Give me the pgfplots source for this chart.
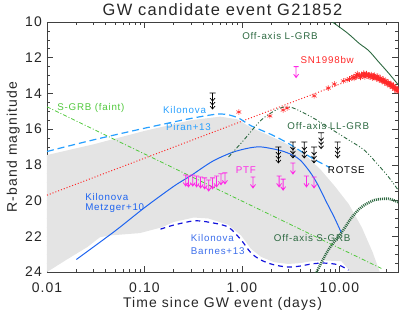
\documentclass[border=0pt]{standalone}
\usepackage{fontspec}
\setmainfont{Liberation Sans}[LetterSpace=8]
\usepackage{pgfplots}
\pgfplotsset{compat=1.18}

\definecolor{graybg}{RGB}{228,228,228}
\definecolor{sgrbgreen}{RGB}{80,200,60}
\definecolor{offgreen}{RGB}{45,105,65}
\definecolor{piran}{RGB}{40,160,255}
\definecolor{metzger}{RGB}{30,100,240}
\definecolor{barnes}{RGB}{20,20,220}
\definecolor{barneslab}{RGB}{60,110,235}
\definecolor{snred}{RGB}{255,40,40}
\definecolor{ptfmag}{RGB}{255,40,230}

\pgfdeclareplotmark{ulim}{%
  \pgfpathmoveto{\pgfqpoint{-2.5pt}{0pt}}\pgfpathlineto{\pgfqpoint{2.5pt}{0pt}}%
  \pgfpathmoveto{\pgfqpoint{0pt}{0pt}}\pgfpathlineto{\pgfqpoint{0pt}{-11pt}}%
  \pgfpathmoveto{\pgfqpoint{-2.5pt}{-7.5pt}}\pgfpathlineto{\pgfqpoint{0pt}{-11pt}}\pgfpathlineto{\pgfqpoint{2.5pt}{-7.5pt}}%
  \pgfusepathqstroke}
\pgfdeclareplotmark{rotse}{%
  \pgfpathmoveto{\pgfqpoint{-3pt}{0pt}}\pgfpathlineto{\pgfqpoint{3pt}{0pt}}%
  \pgfpathmoveto{\pgfqpoint{0pt}{0pt}}\pgfpathlineto{\pgfqpoint{0pt}{-16pt}}%
  \pgfpathmoveto{\pgfqpoint{-2.5pt}{-5pt}}\pgfpathlineto{\pgfqpoint{0pt}{-8pt}}\pgfpathlineto{\pgfqpoint{2.5pt}{-5pt}}%
  \pgfpathmoveto{\pgfqpoint{-2.5pt}{-9pt}}\pgfpathlineto{\pgfqpoint{0pt}{-12pt}}\pgfpathlineto{\pgfqpoint{2.5pt}{-9pt}}%
  \pgfpathmoveto{\pgfqpoint{-2.5pt}{-13pt}}\pgfpathlineto{\pgfqpoint{0pt}{-16pt}}\pgfpathlineto{\pgfqpoint{2.5pt}{-13pt}}%
  \pgfusepathqstroke}

\newcommand\annot{\fontsize{9.8}{11}\selectfont}
\newcommand\labfont{\fontsize{14}{14}\selectfont}

\begin{document}
\begin{tikzpicture}
\begin{axis}[
  scale only axis, width=351bp, height=250bp,
  xmode=log, xmin=0.01, xmax=40, ymin=10, ymax=24, y dir=reverse,
  xtick={0.01,0.1,1,10}, xticklabels={0.01,0.10,1.00,10.00},
  minor xtick={0.02,0.03,0.04,0.05,0.06,0.07,0.08,0.09,0.2,0.3,0.4,0.5,0.6,0.7,0.8,0.9,2,3,4,5,6,7,8,9,20,30,40},
  ytick={10,12,14,16,18,20,22,24}, minor y tick num=3,
  tick align=inside, major tick length=6bp, minor tick length=3bp,
  axis line style={black!75, line width=0.6pt},
  every tick/.style={black!75, line width=0.6pt},
  /pgf/number format/assume math mode=true,
  ticklabel style={font=\fontsize{14}{14}\selectfont, text=black!85},
  xticklabel style={anchor=base, yshift=-20bp},
  yticklabel style={anchor=east, inner sep=0pt, xshift=-5bp},
  title={GW candidate event G21852},
  title style={font=\fontsize{16.5}{16.5}\selectfont, text=black!85, at={(0.5,1)}, anchor=base, yshift=1bp},
  xlabel={Time since GW event (days)},
  xlabel style={font=\labfont, text=black!85, at={(axis description cs:0.5,0)}, anchor=base, yshift=-35bp},
  ylabel={R-band magnitude},
  ylabel style={font=\labfont, text=black!85, at={(axis description cs:-0.0855,0.5)}, anchor=base},
]
% gray kilonova region
\addplot[fill=graybg, draw=none] coordinates {
 (0.01,17.45) (0.03,16.85) (0.1,16.1) (0.3,15.5) (0.6,15.3) (0.9,15.45) (1.23,15.9) (1.8,16.3) (2.7,16.75) (4.3,17.35) (6.5,18.3) (9,19.2) (12.5,20.2) (17,21.5) (22,22.9) (26,24)
 (13,24) (12.4,23.85) (10.5,23.4) (7,23.35) (5.1,23.4) (4,23.5) (3,23.55) (2.14,23.45) (1.57,23.15) (1.24,22.7) (0.98,21.95) (0.72,21.35) (0.45,21.0) (0.32,20.95) (0.2,21.2) (0.15,21.5) (0.09,21.82) (0.045,21.95) (0.035,22.05) (0.026,22.6) (0.016,23.3) (0.01,24)
} -- cycle;
% S-GRB faint
\addplot[sgrbgreen, line width=0.8pt, dash pattern=on 4pt off 2pt on 1pt off 2pt] coordinates {(0.01,14.75) (27,23.8)};
% SN1998bw model dotted
\addplot[snred, line width=1pt, dotted] coordinates {(0.01,19.7) (11,13.4)};
% Piran
\addplot[piran, line width=1.2pt, dash pattern=on 7pt off 4pt, smooth] coordinates {
 (0.01,17.25) (0.03,16.6) (0.1,15.95) (0.3,15.4) (0.6,15.15) (0.9,15.35) (1.23,15.8) (2,16.3) (3,16.8) (4.5,17.4) (6,17.8) (8,18.15)};
% Metzger
\addplot[metzger, line width=1pt, smooth] coordinates {
 (0.02,23.3) (0.05,21.7) (0.1,20.4) (0.2,19.2) (0.3,18.6) (0.5,17.8) (0.8,17.3) (1.2,17.05) (1.6,17.0) (2.5,17.2) (3.3,17.45) (4,17.75) (5,18.4) (6,19.1) (7.4,20.1) (8.8,20.9) (9.9,21.5) (10.5,21.8)};
% Barnes
\addplot[barnes, line width=1.2pt, dash pattern=on 5pt off 4pt, smooth] coordinates {
 (0.146,21.6) (0.2,21.37) (0.32,21.14) (0.447,21.2) (0.72,21.48) (0.98,22.2) (1.24,22.93) (1.57,23.33) (2.14,23.6) (3,23.72) (4.05,23.66) (5.14,23.55) (7,23.5) (9.8,23.6) (12.4,23.9)};
% Off-axis L-GRB
\addplot[offgreen, line width=0.9pt, smooth] coordinates {
 (8,9.9) (12,10.6) (16,11.2) (20,11.6) (25,12.2) (32,12.86) (40,13.5)};
% Off-axis LL-GRB
\addplot[offgreen, line width=0.9pt, dash pattern=on 4pt off 2pt on 1pt off 2pt on 1pt off 2pt, smooth] coordinates {
 (0.73,17.56) (1.05,16.6) (1.57,15.5) (2.2,14.95) (2.7,14.76) (3.3,14.8) (4,15.0) (5.5,15.4) (8,15.95) (12,16.55) (18,17.17) (25,18.0) (32,18.68) (40,19.4)};
% Off-axis S-GRB
\addplot[offgreen, line width=2.6pt, dash pattern=on 1pt off 1pt, smooth] coordinates {
 (5.6,24.2) (7.7,22.77) (10.5,21.8) (13.3,20.97) (16.9,20.36) (23,19.97) (32,19.9) (40.5,20.1)};
% SN1998bw data
\addplot[only marks, mark=asterisk, mark size=2.8pt, snred, mark options={line width=0.6pt}] coordinates {
 (0.93,15.04) (1.94,15.26) (2.65,14.93) (2.91,14.82) (5.52,14.14) (7.7,13.7) (8.88,13.47) (11.0,13.3) (12.0,13.24) (12.7,13.19) (13.5,13.12) (14.0,13.06) (14.5,13.1) (15.0,13.0) (15.6,12.98) (16.2,13.03) (16.9,12.95) (17.5,13.0) (18.0,12.93) (18.6,12.99) (19.3,12.96) (19.9,13.01) (20.5,12.97) (21.0,13.04) (21.7,13.02) (22.4,13.08) (23.0,13.05) (23.7,13.12) (24.4,13.1) (25.2,13.16) (26.0,13.2) (27.0,13.23) (27.8,13.27) (28.6,13.31) (29.5,13.33) (30.5,13.39) (31.5,13.42) (32.5,13.47) (33.5,13.52) (34.5,13.56) (35.5,13.61) (36.5,13.66) (37.5,13.7) (38.5,13.76) (39.5,13.8) (40,13.85)
 (14.2,13.16) (15.3,12.9) (16.5,13.1) (17.8,12.87) (18.3,13.08) (19.0,12.9) (20.2,13.09) (21.3,12.95) (22.0,13.14) (22.8,12.98) (24.0,13.18) (24.8,13.03) (25.6,13.25) (26.5,13.13) (27.4,13.32) (28.2,13.2) (29.0,13.4) (30.0,13.28) (31.0,13.48) (32.0,13.38) (33.0,13.58) (34.0,13.46) (35.0,13.67) (36.0,13.56) (37.0,13.77) (38.0,13.68) (39.0,13.88)};
% PTF limits
\addplot[only marks, mark=ulim, ptfmag, mark options={line width=0.8pt}] coordinates {
 (0.265,18.57) (0.283,18.62) (0.313,18.57) (0.343,18.62) (0.377,18.68) (0.415,18.73) (0.456,18.85) (0.50,18.73) (0.55,18.62) (0.61,18.5) (0.67,18.45) (1.30,18.68) (2.41,18.62) (2.65,18.8) (3.34,17.9) (4.6,18.62) (5.5,18.68) (3.6,12.5)};
% ROTSE limits
\addplot[only marks, mark=rotse, black, mark options={line width=0.7pt}] coordinates {
 (0.5,13.98) (2.37,17.0) (3.34,16.72) (4.37,16.72) (5.5,17.0) (6.5,16.2) (9.6,16.72)};
% labels
\node[font=\annot, text=sgrbgreen, anchor=west, inner sep=0pt] at (axis cs:0.0127,14.8) {S-GRB (faint)};
\node[font=\annot, text=piran, inner sep=0pt] at (axis cs:0.258,14.93) {Kilonova};
\node[font=\annot, text=piran, inner sep=0pt] at (axis cs:0.283,15.88) {Piran+13};
\node[font=\annot, text=metzger, anchor=west, inner sep=0pt] at (axis cs:0.0246,19.8) {Kilonova};
\node[font=\annot, text=metzger, anchor=west, inner sep=0pt] at (axis cs:0.0246,20.41) {Metzger+10};
\node[font=\annot, text=barneslab, anchor=west, inner sep=0pt] at (axis cs:0.298,22.09) {Kilonova};
\node[font=\annot, text=barneslab, anchor=west, inner sep=0pt] at (axis cs:0.298,22.82) {Barnes+13};
\node[font=\annot, text=ptfmag, inner sep=0pt] at (axis cs:1.10,18.29) {PTF};
\node[font=\annot, text=black, inner sep=0pt] at (axis cs:11.8,18.29) {ROTSE};
\node[font=\annot, text=snred, inner sep=0pt] at (axis cs:7.5,12.13) {SN1998bw};
\node[font=\annot, text=offgreen, inner sep=0pt] at (axis cs:2.46,10.78) {Off-axis L-GRB};
\node[font=\annot, text=offgreen, inner sep=0pt] at (axis cs:7.7,15.82) {Off-axis LL-GRB};
\node[font=\annot, text=offgreen, inner sep=0pt] at (axis cs:5.27,22.09) {Off-axis S-GRB};
\end{axis}
\pgfresetboundingbox
\path (current axis.south west) ++(-47bp,-43bp) rectangle ++(399bp,315bp);
\end{tikzpicture}
\end{document}
